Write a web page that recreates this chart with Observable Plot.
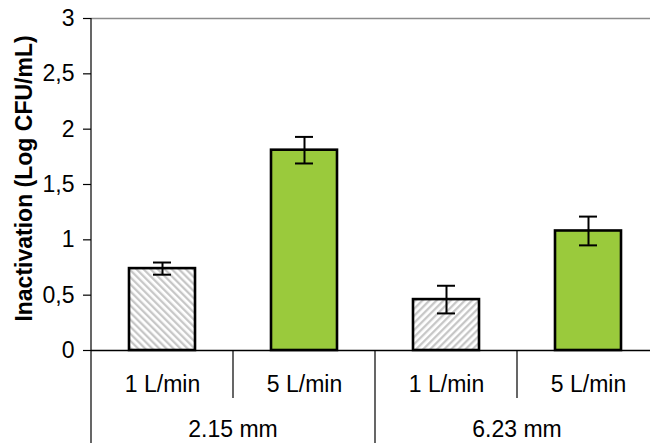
<!DOCTYPE html>
<html><head><meta charset="utf-8">
<script src="https://cdn.jsdelivr.net/npm/d3@7"></script>
<script src="https://cdn.jsdelivr.net/npm/@observablehq/plot@0.6"></script>
<style>html,body{margin:0;padding:0;background:#fff} svg{display:block}</style>
</head><body><div id="chart"></div>
<script>
// ---- data ----
const groups = ["2.15 mm", "2.15 mm", "6.23 mm", "6.23 mm"];
const flows = ["1 L/min", "5 L/min", "1 L/min", "5 L/min"];
const values = [0.74, 1.81, 0.46, 1.08];
const errors = [0.055, 0.12, 0.125, 0.13];
const yTicks = [0, 0.5, 1, 1.5, 2, 2.5, 3];
const yLabel = "Inactivation (Log CFU/mL)";

const data = values.map((v, i) => ({key: groups[i] + "|" + flows[i], group: groups[i], flow: flows[i], value: v, err: errors[i]}));
const keys = data.map(d => d.key);
const flowOf = Object.fromEntries(data.map(d => [d.key, d.flow]));

const FONT = "'Liberation Sans', Arial, sans-serif";
const FS = 23;
const GREEN = "#9aca3c";

function dividers(index, scales, values, dimensions) {
  const x = scales.x, y = scales.y;
  const bw = x(keys[1]) - x(keys[0]);
  const g = d3.create("svg:g").attr("stroke", "black").attr("stroke-width", 1.2);
  const y0 = y(0);
  keys.forEach((k, i) => {
    const left = x(k);
    const groupStart = i === 0 || groups[i] !== groups[i - 1];
    g.append("line").attr("x1", left).attr("x2", left)
      .attr("y1", i === 0 ? y(3) : y0)
      .attr("y2", groupStart ? dimensions.height : y0 + 48);
  });
  const names = Array.from(new Set(groups));
  names.forEach(n => {
    const ks = keys.filter((k, i) => groups[i] === n);
    const cx = (x(ks[0]) + x(ks[ks.length - 1]) + bw) / 2;
    g.append("text").attr("x", cx).attr("y", dimensions.height - 6)
      .attr("stroke", "none").attr("fill", "black").attr("text-anchor", "middle")
      .attr("font-size", FS).text(n);
  });
  return g.node();
}

const chart = Plot.plot({
  width: 650, height: 443,
  marginTop: 18, marginBottom: 93, marginLeft: 91, marginRight: 0,
  style: {fontFamily: FONT, background: "white", overflow: "hidden", color: "black"},
  x: {domain: keys, range: [91, 659], padding: 0},
  y: {domain: [0, 3]},
  marks: [
    Plot.ruleY([3], {stroke: "#8c8c8c", strokeWidth: 1.5}),
    Plot.barY(data.filter(d => d.flow === flows[0] && d.group === groups[0]), {x: "key", y: "value", fill: "url(#hatchB)", stroke: "black", strokeWidth: 2.6, insetLeft: 38, insetRight: 38}),
    Plot.barY(data.filter(d => d.flow === flows[0] && d.group !== groups[0]), {x: "key", y: "value", fill: "url(#hatchF)", stroke: "black", strokeWidth: 2.6, insetLeft: 38, insetRight: 38}),
    Plot.barY(data.filter(d => d.flow !== flows[0]), {x: "key", y: "value", fill: GREEN, stroke: "black", strokeWidth: 2.6, insetLeft: 38, insetRight: 38}),
    Plot.ruleX(data, {x: "key", y1: d => d.value - d.err, y2: d => d.value + d.err, stroke: "black", strokeWidth: 2}),
    Plot.tickY(data, {x: "key", y: d => d.value + d.err, stroke: "black", strokeWidth: 2, insetLeft: 62, insetRight: 62}),
    Plot.tickY(data, {x: "key", y: d => d.value - d.err, stroke: "black", strokeWidth: 2, insetLeft: 62, insetRight: 62}),
    Plot.ruleY([0], {stroke: "black", strokeWidth: 1.3}),
    Plot.axisY({ticks: yTicks, tickSize: 8, tickPadding: 9, fontSize: FS, tickFormat: d => String(d).replace(".", ","), label: null, strokeWidth: 1.2}),
    Plot.axisX({tickSize: 0, tickPadding: 25, fontSize: FS, tickFormat: k => flowOf[k], label: null}),
    Plot.text([yLabel], {text: d => d, frameAnchor: "left", textAnchor: "middle", lineAnchor: "middle", rotate: -90, dx: -67, dy: -6, fontWeight: "bold", fontSize: 23, fill: "black"}),
    dividers
  ]
});

d3.select(chart).insert("defs", ":first-child").html(`
  <pattern id="hatchB" patternUnits="userSpaceOnUse" width="5" height="5" patternTransform="rotate(-45)">
    <rect width="5" height="5" fill="white"/>
    <line x1="1.2" y1="0" x2="1.2" y2="5" stroke="#c4c4c4" stroke-width="2.2"/>
  </pattern>
  <pattern id="hatchF" patternUnits="userSpaceOnUse" width="5" height="5" patternTransform="rotate(45)">
    <rect width="5" height="5" fill="white"/>
    <line x1="1.2" y1="0" x2="1.2" y2="5" stroke="#c4c4c4" stroke-width="2.2"/>
  </pattern>`);

document.getElementById("chart").appendChild(chart);
</script>
</body></html>
